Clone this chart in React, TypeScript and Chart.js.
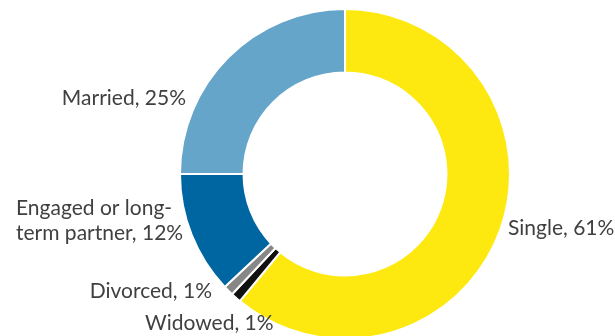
import React, { useEffect, useRef } from "react";
import { Chart, registerables } from "chart.js";

Chart.register(...registerables);

const categories = ["Single", "Widowed", "Divorced", "Engaged or long-term partner", "Married"];
const values = [61, 1, 1, 12, 25];
const labelLines = [
  ["Single, 61%"],
  ["Widowed, 1%"],
  ["Divorced, 1%"],
  ["Engaged or long-", "term partner, 12%"],
  ["Married, 25%"],
];
const colors = ["#FDE910", "#111111", "#878787", "#0066A1", "#65A5C9"];

// label placement relative to the doughnut centre (style only)
const labelPlacement = [
  { dx: 163, dy: 54, align: "left" },
  { dx: -200, dy: 149, align: "left" },
  { dx: -133, dy: 117, align: "right" },
  { dx: -329, dy: 34, align: "left" },
  { dx: -159, dy: -76, align: "right" },
];

const labelPlugin = {
  id: "outerLabels",
  afterDatasetsDraw(chart: any) {
    const ctx = chart.ctx;
    const meta = chart.getDatasetMeta(0);
    const arc = meta.data[0];
    if (!arc) return;
    const cx = arc.x;
    const cy = arc.y;
    ctx.save();
    ctx.font = "21px Lato";
    ctx.fillStyle = "#404040";
    ctx.textBaseline = "middle";
    labelLines.forEach((lines, i) => {
      const p = labelPlacement[i];
      ctx.textAlign = p.align as CanvasTextAlign;
      lines.forEach((t, j) => {
        ctx.fillText(t, cx + p.dx, cy + p.dy + j * 25);
      });
    });
    ctx.restore();
  },
};

export default function App() {
  const ref = useRef<HTMLCanvasElement>(null);
  useEffect(() => {
    if (!ref.current) return;
    const chart = new Chart(ref.current, {
      type: "doughnut",
      data: {
        labels: categories,
        datasets: [
          {
            data: values,
            backgroundColor: colors,
            borderColor: "#ffffff",
            borderWidth: 2,
          },
        ],
      },
      options: {
        animation: false,
        responsive: false,
        radius: 165,
        cutout: 99,
        layout: { padding: { left: 75, top: 12, right: 0, bottom: 0 } },
        plugins: { legend: { display: false }, tooltip: { enabled: false } },
      },
      plugins: [labelPlugin],
    });
    return () => chart.destroy();
  }, []);
  return (
    <div style={{ position: "fixed", left: 0, top: 0, width: 615, height: 336, background: "#fff" }}>
      <canvas ref={ref} width={615} height={336} style={{ width: 615, height: 336 }} />
    </div>
  );
}
